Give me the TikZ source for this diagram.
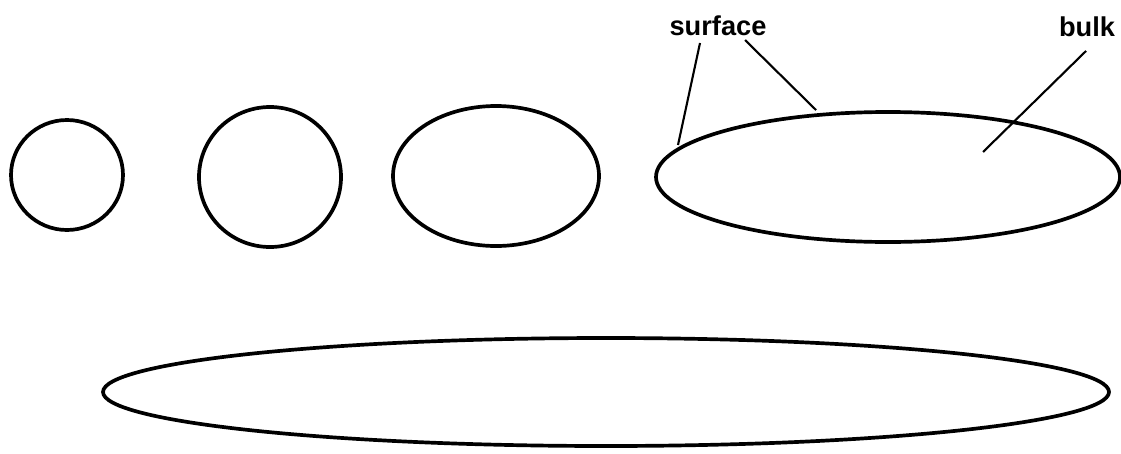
\documentclass[tikz,border=0pt]{standalone}
\usepackage{fontspec}
\setmainfont{Liberation Sans}
\usetikzlibrary{positioning}

\begin{document}
\begin{tikzpicture}[
    x=0.02cm, y=-0.02cm,
    grain/.style={draw, line width=2.1pt},
    lbl/.style={font=\fontsize{15.5}{17}\selectfont\bfseries, inner sep=0pt},
    lead/.style={draw, line width=1.2pt}
]
\useasboundingbox (0,0) rectangle (1121,453);

% growing grains, from round to flat
\draw[grain] (67,175) ellipse [x radius=56, y radius=55];
\draw[grain] (270,177) ellipse [x radius=71, y radius=70];
\draw[grain] (496,176) ellipse [x radius=103, y radius=70];
\draw[grain] (888,177) ellipse [x radius=232, y radius=65];
\draw[grain] (606,392) ellipse [x radius=503, y radius=54];

% labels
\node[lbl] (surf) at (718,26) {surface};
\node[lbl] (bulk) at (1087,27) {bulk};

\coordinate (s1) at (700,43);
\coordinate (s2) at (745,40);
\coordinate (e1) at (678,145);
\coordinate (e2) at (816,110);
\coordinate (b1) at (1086,51);
\coordinate (b2) at (983,152);

\draw[lead] (s1) -- (e1);
\draw[lead] (s2) -- (e2);
\draw[lead] (b1) -- (b2);
\end{tikzpicture}
\end{document}
